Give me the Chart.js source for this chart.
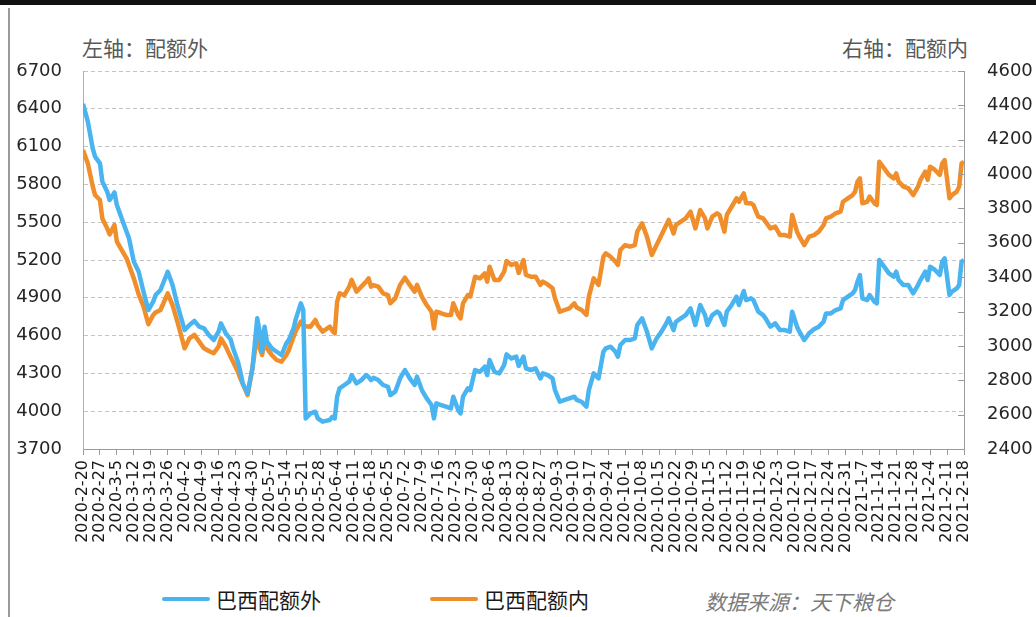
<!DOCTYPE html>
<html>
<head>
<meta charset="utf-8">
<script src="https://cdn.jsdelivr.net/npm/chart.js@4.4.1/dist/chart.umd.min.js"></script>
<style>
  body { margin: 0; width: 1036px; height: 617px; position: relative; overflow: hidden; background: #fff; }
  .frame-top { position: absolute; left: 0; top: 0; width: 1036px; height: 5px; background: #111; }
  .frame-left { position: absolute; left: 8px; top: 8px; width: 2px; height: 609px; background: #9a9a9a; }
  .axis-title { position: absolute; top: 32px; font: 21px "Noto Sans CJK SC", sans-serif; color: #595959; }
  #wrap { position: absolute; left: 0; top: 0; width: 1036px; height: 580px; }
  .legend { position: absolute; top: 584px; font: 21px "Noto Sans CJK SC", sans-serif; color: #1a1a1a; display: flex; align-items: center; }
  .legend i { display: inline-block; width: 48px; height: 4px; margin-right: 6px; border-radius: 2px; }
  .source { position: absolute; left: 705px; top: 586px; font: italic 21px "Noto Sans CJK SC", sans-serif; color: #7a7a7a; }
</style>
</head>
<body>
<div class="frame-top"></div>
<div class="frame-left"></div>
<div class="axis-title" style="left:82px">左轴：配额外</div>
<div class="axis-title" style="right:68px">右轴：配额内</div>
<div id="wrap"><canvas id="chart"></canvas></div>
<div class="legend" style="left:162px"><i style="background:#4ab4f0"></i>巴西配额外</div>
<div class="legend" style="left:430px"><i style="background:#ef8e2b"></i>巴西配额内</div>
<div class="source">数据来源：天下粮仓</div>
<script>
// weekly tick labels (every 7 days from 2020-2-20)
const weekLabels = [
  "2020-2-20", "2020-2-27", "2020-3-5", "2020-3-12", "2020-3-19", "2020-3-26",
  "2020-4-2", "2020-4-9", "2020-4-16", "2020-4-23", "2020-4-30",
  "2020-5-7", "2020-5-14", "2020-5-21", "2020-5-28",
  "2020-6-4", "2020-6-11", "2020-6-18", "2020-6-25",
  "2020-7-2", "2020-7-9", "2020-7-16", "2020-7-23", "2020-7-30",
  "2020-8-6", "2020-8-13", "2020-8-20", "2020-8-27",
  "2020-9-3", "2020-9-10", "2020-9-17", "2020-9-24",
  "2020-10-1", "2020-10-8", "2020-10-15", "2020-10-22", "2020-10-29",
  "2020-11-5", "2020-11-12", "2020-11-19", "2020-11-26",
  "2020-12-3", "2020-12-10", "2020-12-17", "2020-12-24", "2020-12-31",
  "2021-1-7", "2021-1-14", "2021-1-21", "2021-1-28",
  "2021-2-4", "2021-2-11", "2021-2-18"
];

// days since 2020-2-20
const dayOffsets = [
  0, 2, 4, 5, 7, 8, 10, 11, 13, 14,
  16, 18, 19, 21, 23, 25, 27, 29, 30, 32,
  35, 37, 39, 42, 44, 46, 48, 50, 52, 54,
  56, 57, 59, 61, 62, 64, 65, 66, 68, 70,
  72, 73, 74, 75, 76, 78, 80, 82, 84, 85,
  87, 88, 90, 91, 92, 94, 96, 97, 99, 102,
  103, 104, 105, 106, 108, 110, 111, 113, 115, 117,
  118, 119, 120, 122, 124, 126, 127, 129, 131, 133,
  135, 137, 138, 140, 142, 144, 145, 146, 148, 150,
  152, 153, 155, 156, 157, 159, 160, 162, 164, 166,
  167, 168, 170, 172, 174, 175, 177, 179, 180, 182,
  183, 185, 187, 189, 190, 192, 194, 195, 197, 199,
  201, 203, 204, 206, 208, 209, 211, 213, 215, 216,
  218, 220, 221, 222, 224, 226, 228, 229, 231, 233,
  235, 237, 239, 241, 242, 244, 245, 247, 249, 251,
  253, 255, 257, 258, 260, 262, 263, 265, 266, 268,
  270, 271, 273, 274, 276, 277, 279, 281, 282, 284,
  286, 288, 290, 292, 293, 295, 296, 298, 300, 302,
  304, 306, 307, 309, 311, 313, 314, 316, 318, 319,
  320, 321, 322, 324, 325, 327, 328, 329, 331, 333,
  335, 336, 337, 339, 341, 343, 345, 346, 348, 349,
  350, 352, 354, 355, 356, 358, 359, 361, 362, 363,
  364
];

// 巴西配额外 (left axis)
const outQuota = [
  6440, 6298, 6086, 6020, 5967, 5822, 5742, 5676, 5737, 5636,
  5530, 5425, 5372, 5187, 5107, 4948, 4803, 4869, 4922, 4962,
  5107, 5001, 4843, 4644, 4684, 4716, 4671, 4657, 4605, 4565,
  4631, 4697, 4618, 4570, 4499, 4393, 4313, 4221, 4141, 4340,
  4737, 4631, 4472, 4671, 4552, 4499, 4472, 4446, 4538, 4565,
  4657, 4737, 4856, 4803, 3943, 3983, 3996, 3943, 3917, 3930,
  3956, 3943, 4115, 4181, 4208, 4234, 4287, 4221, 4247, 4287,
  4270, 4247, 4265, 4247, 4208, 4194, 4128, 4155, 4260, 4327,
  4260, 4208, 4274, 4168, 4102, 4049, 3943, 4062, 4049, 4036,
  4022, 4115, 4009, 3983, 4115, 4181, 4168, 4327, 4313, 4353,
  4287, 4406, 4313, 4300, 4366, 4451, 4419, 4433, 4360, 4433,
  4340, 4327, 4340, 4260, 4300, 4287, 4260, 4168, 4075, 4089,
  4102, 4115, 4089, 4075, 4036, 4168, 4300, 4260, 4472, 4499,
  4512, 4472, 4433, 4525, 4565, 4565, 4578, 4684, 4737, 4631,
  4499, 4578, 4631, 4697, 4737, 4644, 4710, 4737, 4763, 4816,
  4684, 4843, 4763, 4684, 4763, 4790, 4776, 4684, 4790, 4843,
  4909, 4843, 4954, 4882, 4896, 4882, 4790, 4763, 4737, 4671,
  4697, 4644, 4644, 4631, 4790, 4671, 4631, 4565, 4618, 4650,
  4671, 4710, 4776, 4776, 4803, 4816, 4882, 4909, 4935, 4962,
  5028, 5081, 4896, 4882, 4922, 4869, 4856, 5200, 5147, 5094,
  5068, 5107, 5041, 5001, 5001, 4935, 5001, 5041, 5107, 5041,
  5147, 5121, 5081, 5187, 5213, 4922, 4948, 4975, 5001, 5187,
  5200
];

// 巴西配额内 (right axis)
const inQuota = [
  4140, 4062, 3930, 3878, 3849, 3742, 3684, 3649, 3704, 3607,
  3558, 3510, 3471, 3393, 3300, 3230, 3126, 3180, 3195, 3209,
  3306, 3238, 3141, 2986, 3044, 3064, 3025, 2986, 2970, 2957,
  2996, 3044, 2996, 2935, 2908, 2850, 2811, 2780, 2714, 2869,
  3073, 2986, 2947, 3034, 2986, 2947, 2918, 2908, 2947, 2975,
  3054, 3090, 3141, 3122, 3115, 3112, 3151, 3120, 3083, 3112,
  3090, 3073, 3257, 3306, 3296, 3345, 3384, 3316, 3345, 3374,
  3393, 3345, 3354, 3345, 3306, 3296, 3248, 3277, 3355, 3397,
  3355, 3316, 3355, 3287, 3238, 3199, 3102, 3199, 3190, 3180,
  3180, 3248, 3180, 3160, 3248, 3296, 3287, 3403, 3393, 3422,
  3374, 3461, 3384, 3384, 3432, 3494, 3471, 3481, 3425, 3500,
  3413, 3403, 3403, 3355, 3374, 3358, 3335, 3277, 3199, 3209,
  3219, 3248, 3223, 3209, 3180, 3287, 3393, 3355, 3519, 3539,
  3519, 3490, 3471, 3558, 3587, 3578, 3587, 3665, 3713, 3636,
  3529, 3587, 3645, 3704, 3733, 3655, 3704, 3723, 3742, 3781,
  3684, 3791, 3742, 3684, 3752, 3772, 3762, 3665, 3762, 3810,
  3859, 3839, 3888, 3830, 3830, 3820, 3752, 3742, 3723, 3684,
  3694, 3645, 3645, 3636, 3762, 3665, 3636, 3587, 3636, 3645,
  3665, 3704, 3742, 3752, 3772, 3781, 3839, 3859, 3878, 3898,
  3956, 3975, 3830, 3839, 3869, 3830, 3820, 4072, 4034, 3995,
  3975, 4004, 3956, 3927, 3917, 3878, 3927, 3966, 4014, 3966,
  4043, 4024, 3995, 4062, 4082, 3859, 3878, 3898, 3927, 4062,
  4072
];

const tickFont = { family: "'DejaVu Sans', Verdana, sans-serif", size: 18 };

// small tick marks pointing inward from the right axis
const innerTicks = {
  id: "innerTicks",
  afterDraw(chart) {
    const s = chart.scales.y1;
    const ctx = chart.ctx;
    ctx.save();
    ctx.strokeStyle = "#9a9a9a";
    ctx.lineWidth = 1;
    s.ticks.forEach(t => {
      const y = Math.round(s.getPixelForValue(t.value)) + 0.5;
      ctx.beginPath();
      ctx.moveTo(s.left - 6, y);
      ctx.lineTo(s.left, y);
      ctx.stroke();
    });
    ctx.restore();
  }
};

new Chart(document.getElementById("chart"), {
  type: "line",
  data: {
    datasets: [
      {
        label: "巴西配额外",
        data: dayOffsets.map((d, i) => ({ x: d, y: outQuota[i] })),
        borderColor: "#4ab4f0",
        borderWidth: 4.5,
        pointRadius: 0,
        tension: 0,
        borderJoinStyle: "round",
        yAxisID: "y"
      },
      {
        label: "巴西配额内",
        data: dayOffsets.map((d, i) => ({ x: d, y: inQuota[i] })),
        borderColor: "#ef8e2b",
        borderWidth: 4.5,
        pointRadius: 0,
        tension: 0,
        borderJoinStyle: "round",
        yAxisID: "y1"
      }
    ]
  },
  options: {
    responsive: true,
    maintainAspectRatio: false,
    animation: false,
    layout: { padding: { top: 71, left: 0, right: 0, bottom: 0 } },
    plugins: {
      legend: { display: false },
      tooltip: { enabled: false }
    },
    scales: {
      x: {
        type: "linear",
        min: 0,
        max: 364,
        afterBuildTicks: scale => {
          scale.ticks = weekLabels.map((_, i) => ({ value: i * 7 }));
        },
        afterFit: scale => { scale.height = 131; },
        ticks: {
          autoSkip: false,
          maxRotation: 90,
          minRotation: 90,
          padding: 5,
          color: "#1a1a1a",
          font: { family: "'DejaVu Sans', Verdana, sans-serif", size: 16 },
          callback: (value, index) => weekLabels[index]
        },
        grid: { drawOnChartArea: false, drawTicks: true, tickLength: 6, color: "#9a9a9a" },
        border: { color: "#9a9a9a" }
      },
      y: {
        position: "left",
        min: 3700,
        max: 6700,
        afterBuildTicks: scale => {
          const t = [];
          for (let v = 3700; v <= 6700; v += 300) t.push({ value: v });
          scale.ticks = t;
        },
        afterFit: scale => { scale.width = 83; },
        ticks: { padding: 21, color: "#262626", font: tickFont, callback: v => String(v) },
        grid: { color: "#c4c4c4", drawTicks: false, lineWidth: 1 },
        border: { color: "#b0b0b0", dash: [4, 3] }
      },
      y1: {
        position: "right",
        min: 2400,
        max: 4600,
        afterBuildTicks: scale => {
          const t = [];
          for (let v = 2400; v <= 4600; v += 200) t.push({ value: v });
          scale.ticks = t;
        },
        afterFit: scale => { scale.width = 72; },
        ticks: { padding: 23, color: "#262626", font: tickFont, callback: v => String(v) },
        grid: { drawOnChartArea: false, drawTicks: false },
        border: { color: "#9a9a9a" }
      }
    }
  },
  plugins: [innerTicks]
});
</script>
</body>
</html>
